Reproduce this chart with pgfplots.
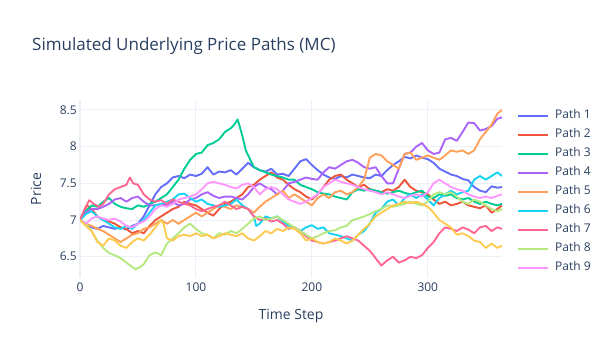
\documentclass[border=0pt]{standalone}
\usepackage{pgfplots}
\pgfplotsset{compat=1.18}
\usepackage{fontspec}
\setmainfont{Open Sans}
\definecolor{c1}{HTML}{636EFA}
\definecolor{c2}{HTML}{EF553B}
\definecolor{c3}{HTML}{00CC96}
\definecolor{c4}{HTML}{AB63FA}
\definecolor{c5}{HTML}{FFA15A}
\definecolor{c6}{HTML}{19D3F3}
\definecolor{c7}{HTML}{FF6692}
\definecolor{c8}{HTML}{B6E880}
\definecolor{c9}{HTML}{FF97FF}
\definecolor{c10}{HTML}{FECB52}
\definecolor{txt}{HTML}{2A3F5F}
\definecolor{gridc}{HTML}{EBF0F8}
\begin{document}
\begin{tikzpicture}
\useasboundingbox (0,0) rectangle (615bp,360bp);
\node[anchor=base west, font=\fontsize{17bp}{20bp}\selectfont, text=txt, inner sep=0pt] at (32bp,309bp) {Simulated Underlying Price Paths (MC)};
\begin{axis}[
  at={(80bp,82bp)}, anchor=south west,
  width=422bp, height=178bp, scale only axis,
  xmin=0, xmax=364, ymin=6.21, ymax=8.636,
  axis line style={draw=none},
  xtick={0,100,200,300}, ytick={6.5,7,7.5,8,8.5},
  yticklabels={6.5,7,7.5,8,8.5},
  extra x ticks={0}, extra x tick labels={},
  extra x tick style={grid style={line width=2bp, color=gridc}},
  major tick length=0pt,
  grid=major, grid style={line width=1bp, color=gridc},
  /pgf/number format/assume math mode=true,
  tick label style={font=\fontsize{12bp}{14bp}\selectfont, text=txt},
  xticklabel style={inner sep=0pt, anchor=north, yshift=-5bp},
  yticklabel style={inner sep=0pt, anchor=east, xshift=-3bp},
  xlabel={Time Step}, ylabel={Price},
  label style={font=\fontsize{14bp}{16bp}\selectfont, text=txt},
  xlabel style={at={(axis description cs:0.5,-0.2135)}, anchor=center},
  ylabel style={at={(axis description cs:-0.104,0.5)}, anchor=center, rotate=0},
  every axis plot/.append style={line width=1.9bp, line join=round},
  legend style={draw=none, fill=none, at={(axis description cs:1.0355,0.945)}, anchor=north west,
    inner sep=0pt, row sep=7bp, column sep=6bp,
    nodes={inner sep=0pt, text height=9bp, text depth=3bp, anchor=west},
    font=\fontsize{12bp}{14bp}\selectfont, text=txt},
  legend cell align=left,
  legend image code/.code={\draw[#1, line width=2bp] (0bp,0bp) -- (30bp,0bp);},
]
\addplot[c1] coordinates {(0,7.00)(5,6.95)(10,6.9)(15,6.88)(20,6.92)(25,6.9)(30,6.88)(35,6.9)(40,6.87)(45,6.92)(50,6.95)(55,7.05)(60,7.2)(65,7.35)(70,7.45)(75,7.5)(80,7.58)(85,7.6)(90,7.57)(95,7.62)(100,7.6)(105,7.63)(110,7.72)(115,7.62)(120,7.66)(125,7.65)(130,7.68)(135,7.62)(140,7.7)(145,7.78)(150,7.72)(155,7.68)(160,7.66)(165,7.7)(170,7.62)(175,7.63)(180,7.6)(185,7.7)(190,7.8)(195,7.83)(200,7.75)(205,7.68)(210,7.62)(215,7.58)(220,7.56)(225,7.6)(230,7.58)(235,7.62)(240,7.6)(245,7.58)(250,7.57)(255,7.62)(260,7.6)(265,7.68)(270,7.75)(275,7.8)(280,7.86)(285,7.84)(290,7.88)(295,7.85)(300,7.83)(305,7.78)(310,7.7)(315,7.66)(320,7.62)(325,7.6)(330,7.56)(335,7.54)(340,7.45)(345,7.4)(350,7.38)(355,7.46)(360,7.44)(364,7.45)};
\addlegendentry{Path 1}
\addplot[c2] coordinates {(0,7.0)(3,7.1)(6,7.2)(10,7.15)(15,7.05)(20,7.0)(25,6.98)(30,6.95)(35,6.9)(40,6.88)(45,6.82)(50,6.85)(55,6.82)(60,6.92)(65,7.0)(70,7.05)(75,7.1)(80,7.15)(85,7.18)(90,7.25)(95,7.22)(100,7.2)(105,7.15)(110,7.1)(115,7.06)(120,7.15)(125,7.22)(130,7.25)(135,7.3)(140,7.35)(145,7.45)(150,7.48)(155,7.55)(160,7.6)(165,7.65)(170,7.58)(175,7.55)(180,7.48)(185,7.42)(190,7.38)(195,7.32)(200,7.28)(205,7.35)(210,7.45)(215,7.55)(220,7.6)(225,7.62)(230,7.55)(235,7.5)(240,7.45)(245,7.48)(250,7.42)(255,7.4)(260,7.38)(265,7.42)(270,7.4)(275,7.45)(280,7.55)(285,7.45)(290,7.4)(295,7.38)(300,7.35)(305,7.28)(310,7.22)(315,7.25)(320,7.2)(325,7.22)(330,7.25)(335,7.2)(340,7.18)(345,7.16)(350,7.2)(355,7.1)(360,7.15)(364,7.2)};
\addlegendentry{Path 2}
\addplot[c3] coordinates {(0,7.0)(5,7.12)(10,7.2)(15,7.18)(20,7.25)(25,7.3)(30,7.22)(35,7.18)(40,7.16)(45,7.15)(50,7.2)(55,7.18)(60,7.22)(65,7.25)(70,7.3)(75,7.35)(80,7.45)(85,7.55)(90,7.7)(95,7.82)(100,7.9)(105,7.92)(110,8.02)(115,8.05)(120,8.1)(125,8.2)(130,8.25)(133,8.3)(136,8.37)(140,8.15)(143,7.95)(146,7.85)(150,7.72)(155,7.68)(160,7.65)(165,7.62)(170,7.6)(175,7.58)(180,7.55)(185,7.55)(190,7.48)(195,7.45)(200,7.42)(205,7.38)(210,7.36)(215,7.35)(220,7.32)(225,7.3)(230,7.28)(235,7.38)(240,7.42)(245,7.4)(250,7.42)(255,7.4)(260,7.38)(265,7.36)(270,7.38)(275,7.4)(280,7.37)(285,7.35)(290,7.38)(295,7.4)(300,7.32)(305,7.3)(310,7.35)(315,7.33)(320,7.35)(325,7.3)(330,7.28)(335,7.3)(340,7.25)(345,7.22)(350,7.25)(355,7.22)(360,7.2)(364,7.22)};
\addlegendentry{Path 3}
\addplot[c4] coordinates {(0,7.0)(5,7.1)(10,7.15)(15,7.15)(20,7.18)(25,7.22)(30,7.28)(35,7.3)(40,7.25)(45,7.3)(50,7.32)(55,7.25)(60,7.2)(65,7.2)(70,7.22)(75,7.2)(80,7.25)(85,7.2)(90,7.22)(95,7.28)(100,7.3)(105,7.35)(110,7.38)(115,7.33)(120,7.3)(125,7.32)(130,7.32)(135,7.3)(140,7.28)(145,7.35)(150,7.45)(155,7.5)(160,7.45)(165,7.42)(170,7.35)(175,7.4)(180,7.5)(185,7.52)(190,7.55)(195,7.58)(200,7.56)(205,7.55)(210,7.65)(215,7.72)(220,7.7)(225,7.75)(230,7.8)(235,7.82)(240,7.78)(245,7.72)(250,7.7)(255,7.72)(260,7.6)(265,7.5)(270,7.5)(275,7.7)(280,7.9)(285,7.92)(290,8.0)(295,8.05)(300,7.95)(305,7.9)(310,7.92)(315,8.1)(320,8.12)(325,8.08)(330,8.2)(335,8.33)(340,8.32)(345,8.22)(350,8.24)(355,8.28)(360,8.38)(364,8.4)};
\addlegendentry{Path 4}
\addplot[c5] coordinates {(0,7.0)(5,6.95)(10,6.92)(15,6.88)(20,6.85)(25,6.8)(30,6.75)(35,6.7)(40,6.75)(45,6.8)(50,6.82)(55,6.88)(60,6.9)(65,6.95)(70,7.0)(75,6.95)(80,7.0)(85,6.95)(90,7.0)(95,7.05)(100,7.1)(105,7.05)(110,7.1)(115,7.15)(120,7.2)(125,7.18)(130,7.15)(135,7.2)(140,7.18)(145,7.15)(150,7.1)(155,7.18)(160,7.25)(165,7.3)(170,7.35)(175,7.4)(180,7.3)(185,7.35)(190,7.3)(195,7.25)(200,7.2)(205,7.3)(210,7.35)(215,7.3)(220,7.38)(225,7.4)(230,7.35)(235,7.38)(240,7.45)(245,7.55)(250,7.85)(255,7.9)(260,7.88)(265,7.8)(270,7.75)(275,7.7)(280,7.9)(285,7.92)(290,7.82)(295,7.85)(300,7.88)(305,7.85)(310,7.82)(315,7.88)(320,7.95)(325,7.93)(330,7.95)(335,7.9)(340,7.95)(345,8.1)(350,8.2)(355,8.3)(360,8.45)(364,8.5)};
\addlegendentry{Path 5}
\addplot[c6] coordinates {(0,7.0)(5,7.08)(10,7.12)(15,7.05)(20,7.0)(25,6.95)(30,6.9)(35,6.88)(40,6.92)(45,6.88)(50,6.95)(55,7.0)(60,7.1)(65,7.2)(70,7.22)(75,7.25)(80,7.28)(85,7.35)(90,7.36)(95,7.3)(100,7.25)(105,7.28)(110,7.22)(115,7.2)(120,7.18)(125,7.2)(130,7.22)(135,7.28)(140,7.2)(145,7.15)(150,7.05)(152,6.92)(155,6.95)(160,7.05)(165,7.02)(170,7.05)(175,6.98)(180,6.92)(185,6.9)(190,6.85)(195,6.9)(200,6.93)(205,6.88)(210,6.9)(215,6.82)(220,6.8)(225,6.78)(230,6.75)(235,6.72)(240,6.8)(245,6.85)(250,6.95)(255,7.1)(260,7.15)(265,7.25)(270,7.28)(275,7.2)(280,7.3)(285,7.35)(290,7.3)(295,7.35)(300,7.28)(305,7.2)(310,7.3)(315,7.35)(320,7.4)(325,7.35)(330,7.38)(335,7.4)(340,7.55)(345,7.6)(350,7.55)(355,7.6)(360,7.65)(364,7.6)};
\addlegendentry{Path 6}
\addplot[c7] coordinates {(0,7.0)(4,7.15)(8,7.27)(12,7.22)(16,7.18)(20,7.22)(25,7.35)(30,7.42)(35,7.45)(40,7.48)(43,7.58)(46,7.5)(50,7.48)(55,7.35)(60,7.28)(65,7.25)(70,7.27)(75,7.22)(80,7.28)(85,7.25)(90,7.22)(95,7.2)(100,7.15)(105,7.12)(110,7.15)(115,7.18)(120,7.2)(125,7.25)(130,7.2)(135,7.15)(140,7.18)(145,7.15)(150,7.05)(155,7.0)(160,7.02)(165,6.98)(170,7.0)(175,6.95)(180,6.88)(185,6.9)(190,6.85)(195,6.78)(200,6.72)(205,6.7)(210,6.68)(215,6.7)(220,6.72)(225,6.75)(230,6.78)(235,6.75)(240,6.72)(245,6.65)(250,6.58)(255,6.48)(260,6.38)(265,6.45)(270,6.5)(275,6.42)(280,6.45)(285,6.5)(290,6.48)(295,6.52)(300,6.62)(305,6.7)(310,6.82)(315,6.9)(320,6.88)(325,6.85)(330,6.9)(335,6.87)(340,6.82)(345,6.9)(350,6.92)(355,6.85)(360,6.9)(364,6.88)};
\addlegendentry{Path 7}
\addplot[c8] coordinates {(0,7.0)(5,6.95)(10,6.85)(15,6.72)(20,6.62)(25,6.55)(30,6.52)(35,6.48)(40,6.42)(45,6.36)(48,6.33)(52,6.36)(55,6.4)(60,6.52)(65,6.56)(70,6.52)(75,6.68)(80,6.75)(85,6.82)(90,6.9)(95,6.95)(100,6.88)(105,6.82)(110,6.8)(115,6.75)(120,6.82)(125,6.8)(130,6.85)(135,6.82)(140,6.88)(145,6.95)(150,7.02)(155,7.05)(160,7.0)(165,7.02)(170,7.05)(175,7.0)(180,6.95)(185,6.9)(190,6.85)(195,6.8)(200,6.75)(205,6.78)(210,6.82)(215,6.85)(220,6.86)(225,6.9)(230,6.92)(235,7.0)(240,7.02)(245,7.05)(250,7.08)(255,7.12)(260,7.15)(265,7.2)(270,7.18)(275,7.2)(280,7.22)(285,7.25)(290,7.22)(295,7.2)(300,7.25)(305,7.35)(310,7.38)(315,7.35)(320,7.38)(325,7.32)(330,7.25)(335,7.22)(340,7.28)(345,7.25)(350,7.2)(355,7.15)(360,7.12)(364,7.15)};
\addlegendentry{Path 8}
\addplot[c9] coordinates {(0,7.0)(5,6.95)(10,7.02)(15,7.05)(20,7.02)(25,7.0)(30,7.02)(35,6.98)(40,6.92)(45,6.9)(50,6.95)(55,6.98)(60,7.05)(65,7.15)(70,7.2)(75,7.18)(80,7.22)(85,7.28)(90,7.3)(95,7.32)(100,7.35)(105,7.42)(110,7.5)(115,7.52)(120,7.5)(125,7.48)(130,7.45)(135,7.43)(140,7.48)(145,7.5)(150,7.45)(155,7.35)(160,7.42)(165,7.45)(170,7.42)(175,7.35)(180,7.28)(185,7.25)(190,7.22)(195,7.25)(200,7.3)(205,7.35)(210,7.45)(215,7.5)(220,7.55)(225,7.52)(230,7.5)(235,7.48)(240,7.45)(245,7.42)(250,7.4)(255,7.38)(260,7.35)(265,7.38)(270,7.35)(275,7.32)(280,7.3)(285,7.33)(290,7.35)(295,7.32)(300,7.38)(305,7.5)(310,7.55)(315,7.5)(320,7.45)(325,7.42)(330,7.4)(335,7.35)(340,7.32)(345,7.3)(350,7.32)(355,7.3)(360,7.33)(364,7.35)};
\addlegendentry{Path 9}
\addplot[c10, forget plot] coordinates {(0,7.0)(5,6.92)(10,6.85)(15,6.7)(20,6.65)(25,6.75)(30,6.72)(35,6.65)(40,6.62)(45,6.7)(50,6.75)(55,6.72)(60,6.8)(65,6.9)(70,7.0)(72,6.95)(75,6.75)(80,6.72)(85,6.78)(90,6.8)(95,6.78)(100,6.82)(105,6.78)(110,6.8)(115,6.75)(120,6.78)(125,6.82)(130,6.8)(135,6.78)(140,6.82)(145,6.75)(150,6.72)(155,6.78)(160,6.85)(165,6.82)(170,6.88)(175,6.85)(180,6.9)(185,6.88)(190,6.82)(195,6.72)(200,6.75)(205,6.7)(210,6.68)(215,6.7)(220,6.75)(225,6.72)(230,6.68)(235,6.72)(240,6.8)(245,6.88)(250,6.95)(255,7.05)(260,7.1)(265,7.15)(270,7.2)(275,7.22)(280,7.25)(285,7.23)(290,7.25)(295,7.22)(300,7.18)(305,7.1)(310,7.0)(315,6.95)(320,6.9)(325,6.8)(330,6.82)(335,6.78)(340,6.72)(345,6.7)(350,6.62)(355,6.68)(360,6.62)(364,6.65)};
\end{axis}
\end{tikzpicture}
\end{document}
